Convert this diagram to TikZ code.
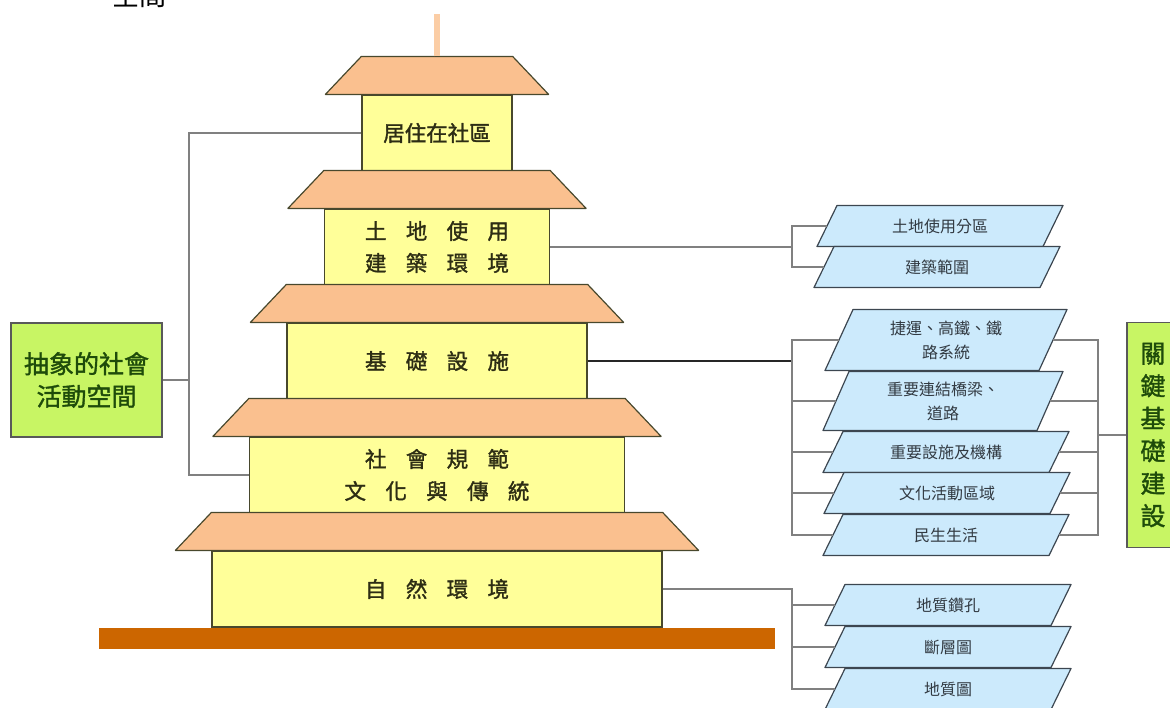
\documentclass[tikz,border=0pt]{standalone}
\usepackage{fontspec}
\newfontfamily\cjk{Noto Sans CJK TC}
\newfontfamily\cjkb[FakeBold=1.4]{Noto Sans CJK TC}
\usetikzlibrary{calc,backgrounds}
\definecolor{roofcol}{RGB}{250,192,143}
\definecolor{floorcol}{RGB}{255,255,153}
\definecolor{edgecol}{RGB}{72,72,45}
\definecolor{floortext}{RGB}{45,45,20}
\definecolor{notecol}{RGB}{200,245,100}
\definecolor{notetext}{RGB}{30,75,10}
\definecolor{layercol}{RGB}{204,234,252}
\definecolor{layeredge}{RGB}{60,70,80}
\definecolor{layertext}{RGB}{50,58,66}
\definecolor{groundcol}{RGB}{204,102,0}
\newcommand{\gp}{\hspace{0.9em}}

\begin{document}
\begin{tikzpicture}[x=1pt, y=-1pt,
    floor/.style={draw=edgecol, line width=1.2pt, fill=floorcol, inner sep=0pt, minimum height=76pt,
      align=center, text=floortext, font=\cjkb\fontsize{21.5}{32}\selectfont},
    roof/.style={draw=edgecol, line width=1.2pt, fill=roofcol, line join=round},
    note/.style={draw=black!65, line width=1.2pt, fill=notecol, inner sep=0pt, align=center,
      text=notetext, font=\cjkb\fontsize{25}{32.5}\selectfont},
    layer/.style={inner sep=0pt, outer sep=0pt, minimum width=226pt, minimum height=41pt,
      align=center, text=layertext, font=\cjk\fontsize{16}{24}\selectfont},
    link/.style={draw=black!50, line width=1.3pt}]
  \useasboundingbox (0,0) rectangle (1170,707);

  \node [font=\cjk\fontsize{27}{27}\selectfont, anchor=base] (top) at (139,5) {空間};

  \node [floor, minimum width=150pt] (b1) at (437,133) {居住在社區};
  \node [floor, minimum width=225pt] (b2) at (437,247) {土\gp 地\gp 使\gp 用\\建\gp 築\gp 環\gp 境};
  \node [floor, minimum width=300pt] (b3) at (437,361) {基\gp 礎\gp 設\gp 施};
  \node [floor, minimum width=375pt] (b4) at (437,475) {社\gp 會\gp 規\gp 範\\文\gp 化\gp 與\gp 傳\gp 統};
  \node [floor, minimum width=450pt] (b5) at (437,589) {自\gp 然\gp 環\gp 境};
  \foreach \b in {b1,b2,b3,b4,b5}
    \draw [roof] ($(\b.north west)+(-36,0)$) -- ($(\b.north west)+(0,-38)$) --
      ($(\b.north east)+(0,-38)$) -- ($(\b.north east)+(36,0)$) -- cycle;
  \draw [line width=6pt, roofcol!80!white] ($(b1.north)+(0,-38)$) -- ++(0,-42);
  \fill [groundcol] ($(b5.south west)+(-112,0)$) rectangle ($(b5.south east)+(112,21)$);

  \node [note, minimum width=151pt, minimum height=114pt] (abs) at (86.5,380) {抽象的社會\\活動空間};
  \node [note, minimum width=52pt, minimum height=225pt] (key) at (1153,435) {關\\鍵\\基\\礎\\建\\設};

  \node [layer] (t1) at (940,226) {土地使用分區};
  \node [layer] (t2) at (937,267) {建築範圍};
  \node [layer, minimum width=214pt, minimum height=61pt] (i1) at (946,340) {捷運、高鐵、鐵\\路系統};
  \node [layer, minimum width=214pt, minimum height=59pt] (i2) at (943,401) {重要連結橋梁、\\道路};
  \node [layer] (i3) at (946,452) {重要設施及機構};
  \node [layer] (i4) at (947,493) {文化活動區域};
  \node [layer] (i5) at (946,535) {民生生活};
  \node [layer] (g1) at (948,605) {地質鑽孔};
  \node [layer] (g2) at (948,647) {斷層圖};
  \node [layer] (g3) at (948,689) {地質圖};
  \begin{pgfonlayer}{background}
    \foreach \p/\s in {t1/10,t2/10,i1/14,i2/13,i3/10,i4/10,i5/10,g1/10,g2/10,g3/10}
      \draw [layeredge, line width=1.2pt, fill=layercol, line join=round]
        ($(\p.south west)+(-\s,0)$) -- ($(\p.north west)+(\s,0)$) --
        ($(\p.north east)+(\s,0)$) -- ($(\p.south east)+(-\s,0)$) -- cycle;
  \end{pgfonlayer}

  \coordinate (jl) at (189,380);
  \draw [link] (abs) -- (jl);
  \draw [link] (b1) -| (jl) |- (b4);

  \coordinate (jt) at (792,247);
  \draw [link] (b2) -- (jt);
  \draw [link] (t1) -| (jt) |- (t2);

  \coordinate (jm) at (792,361);
  \draw [link, draw=black!85] (b3) -- (jm);
  \draw [link] (i1) -| (jm) |- (i5);
  \foreach \p in {i2,i3,i4}
    \draw [link] (jm |- \p) -- (\p);
  \coordinate (jr) at (1098,435);
  \draw [link] (i1) -| (jr) |- (i5);
  \foreach \p in {i2,i3,i4}
    \draw [link] (\p) -- (jr |- \p);
  \draw [link] (jr) -- (key);

  \coordinate (jg) at (792,589);
  \draw [link] (b5) -- (jg) |- (g3);
  \draw [link] (jg |- g1) -- (g1);
  \draw [link] (jg |- g2) -- (g2);
\end{tikzpicture}
\end{document}
